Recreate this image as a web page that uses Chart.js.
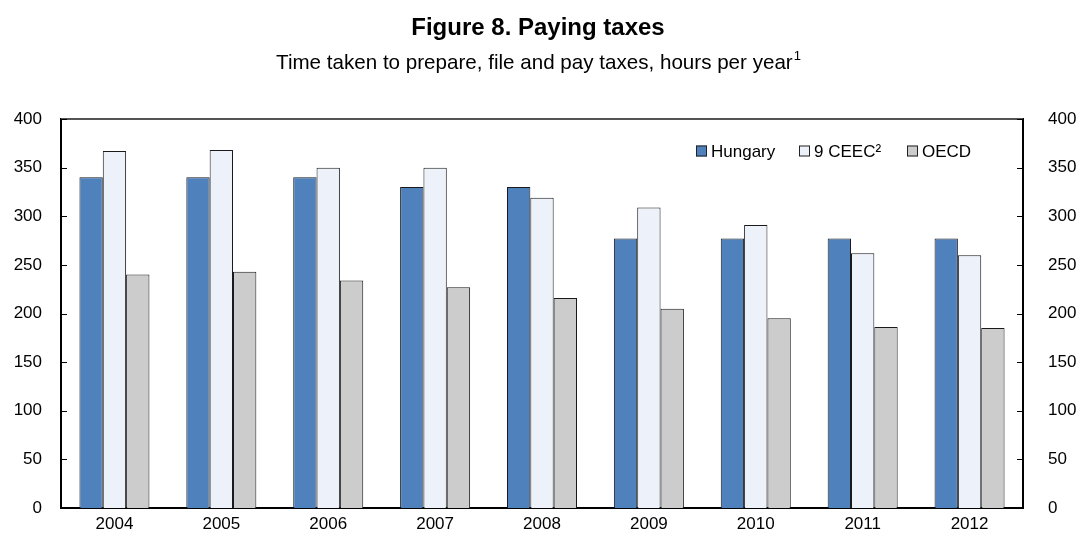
<!DOCTYPE html>
<html>
<head>
<meta charset="utf-8">
<script src="https://cdn.jsdelivr.net/npm/chart.js@4/dist/chart.umd.min.js"></script>
<style>
html,body{margin:0;padding:0;background:#fff;}
#wrap{width:1077px;height:534px;position:relative;}
</style>
</head>
<body>
<div id="wrap"><canvas id="c" width="1077" height="534"></canvas></div>
<script>
const years = ['2004','2005','2006','2007','2008','2009','2010','2011','2012'];
const hungary = [340, 340, 340, 330, 330, 277, 277, 277, 277];
const ceec9   = [367, 368, 350, 350, 319, 309, 291, 262, 260];
const oecd    = [240, 243, 234, 227, 216, 205, 195, 186, 185];
const seriesNames = ['Hungary', '9 CEEC²', 'OECD'];
const yTicks = [0, 50, 100, 150, 200, 250, 300, 350, 400];
const titleText = 'Figure 8. Paying taxes';
const subtitleText = 'Time taken to prepare, file and pay taxes, hours per year';
const subtitleSup = '1';

const FONT = '"Liberation Sans", Arial, sans-serif';
const colors = ['#4F81BD', '#EDF1F9', '#CCCCCC'];

const decor = {
  id: 'decor',
  afterDraw(chart) {
    const ctx = chart.ctx;
    const ca = chart.chartArea;
    ctx.save();
    // top border
    ctx.strokeStyle = '#555555';
    ctx.lineWidth = 2;
    ctx.beginPath();
    ctx.moveTo(ca.left, ca.top);
    ctx.lineTo(ca.right, ca.top);
    ctx.stroke();
    // inward ticks on both y axes
    ctx.strokeStyle = '#000';
    ctx.lineWidth = 1;
    const yl = chart.scales.y;
    yTicks.forEach(v => {
      const py = Math.round(yl.getPixelForValue(v)) + 0.5;
      ctx.beginPath();
      ctx.moveTo(ca.left, py); ctx.lineTo(ca.left + 6, py);
      ctx.moveTo(ca.right, py); ctx.lineTo(ca.right - 6, py);
      ctx.stroke();
    });
    // title
    const cx = 538;
    ctx.fillStyle = '#000';
    ctx.textBaseline = 'middle';
    ctx.textAlign = 'center';
    ctx.font = 'bold 24px ' + FONT;
    ctx.fillText(titleText, cx, 28);
    // subtitle with superscript
    ctx.font = '20.6px ' + FONT;
    const w1 = ctx.measureText(subtitleText).width;
    ctx.font = '13px ' + FONT;
    const w2 = ctx.measureText(subtitleSup).width;
    const startX = cx - (w1 + w2) / 2;
    ctx.textAlign = 'left';
    ctx.font = '20.6px ' + FONT;
    ctx.fillText(subtitleText, startX, 63);
    ctx.font = '13px ' + FONT;
    ctx.fillText(subtitleSup, startX + w1 + 1, 56);
    // legend
    const lx = [696, 799, 907];
    const ly = 151;
    ctx.font = '17px ' + FONT;
    for (let i = 0; i < 3; i++) {
      ctx.fillStyle = colors[i];
      ctx.fillRect(lx[i], ly - 5.5, 11, 11);
      ctx.strokeStyle = '#222';
      ctx.lineWidth = 1;
      ctx.strokeRect(lx[i] + 0.5, ly - 5.5 + 0.5, 10, 10);
      ctx.fillStyle = '#000';
      ctx.fillText(seriesNames[i], lx[i] + 15, ly + 1);
    }
    ctx.restore();
  }
};

function fixY(width) {
  return function(s) {
    s.width = width;
    s.paddingTop = 0;
    s.paddingBottom = 0;
  };
}

new Chart(document.getElementById('c'), {
  type: 'bar',
  data: {
    labels: years,
    datasets: [
      {label: seriesNames[0], data: hungary, backgroundColor: colors[0], borderColor: '#1a1a1a', borderWidth: 1},
      {label: seriesNames[1], data: ceec9,   backgroundColor: colors[1], borderColor: '#1a1a1a', borderWidth: 1},
      {label: seriesNames[2], data: oecd,    backgroundColor: colors[2], borderColor: '#1a1a1a', borderWidth: 1}
    ]
  },
  options: {
    responsive: false,
    animation: false,
    devicePixelRatio: 1,
    layout: {padding: {top: 119, left: 0, right: 0, bottom: 0}},
    datasets: {bar: {categoryPercentage: 0.655, barPercentage: 1.0}},
    plugins: {
      legend: {display: false},
      title: {display: false},
      tooltip: {enabled: false}
    },
    scales: {
      x: {
        grid: {display: false, drawTicks: false},
        border: {display: true, color: '#000', width: 2},
        ticks: {color: '#000', font: {family: FONT, size: 17}, padding: 6, maxRotation: 0},
        afterFit(s) { s.height = 26; s.paddingLeft = 0; s.paddingRight = 0; }
      },
      y: {
        position: 'left',
        min: 0, max: 400,
        afterBuildTicks(s) { s.ticks = yTicks.map(v => ({value: v})); },
        grid: {display: false, drawTicks: false},
        border: {display: true, color: '#000', width: 2},
        ticks: {color: '#000', font: {family: FONT, size: 17}, padding: 19},
        afterFit: fixY(61)
      },
      y2: {
        position: 'right',
        min: 0, max: 400,
        afterBuildTicks(s) { s.ticks = yTicks.map(v => ({value: v})); },
        grid: {display: false, drawTicks: false},
        border: {display: true, color: '#000', width: 2},
        ticks: {color: '#000', font: {family: FONT, size: 17}, padding: 25},
        afterFit: fixY(54)
      }
    }
  },
  plugins: [decor]
});
</script>
</body>
</html>
